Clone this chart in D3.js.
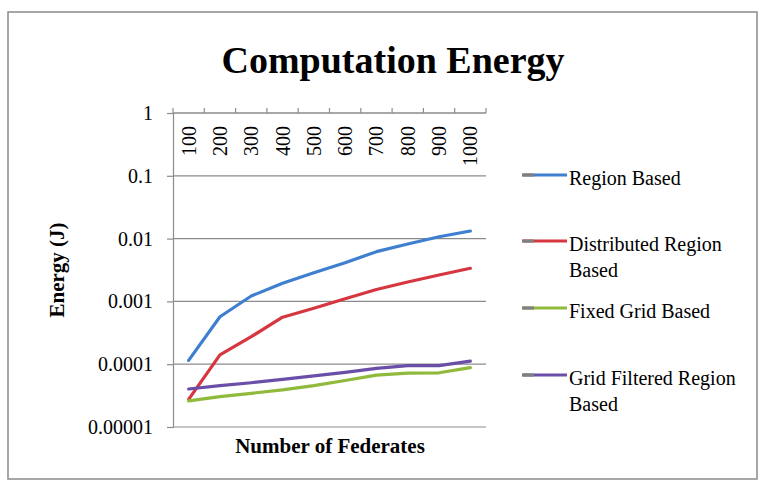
<!DOCTYPE html>
<html>
<head>
<meta charset="utf-8">
<script src="https://cdn.jsdelivr.net/npm/d3@7/dist/d3.min.js"></script>
<style>
  html, body { margin: 0; padding: 0; background: #fff; }
  svg { display: block; }
  text { font-family: "Liberation Serif", "Times New Roman", "DejaVu Serif", serif; fill: #000; }
</style>
</head>
<body>
<svg id="chart" width="763" height="484"></svg>
<script>
const categories = ["100","200","300","400","500","600","700","800","900","1000"];
const regionBased = [0.000115, 0.00057, 0.00122, 0.00194, 0.00286, 0.00413, 0.0062, 0.0082, 0.0107, 0.0132];
const distributedRegionBased = [0.0000275, 0.000141, 0.000274, 0.00056, 0.00078, 0.0011, 0.00155, 0.00204, 0.00263, 0.00337];
const fixedGridBased = [0.000026, 0.0000304, 0.0000344, 0.000039, 0.0000455, 0.000055, 0.000067, 0.000072, 0.000073, 0.000088];
const gridFilteredRegionBased = [0.0000403, 0.0000455, 0.0000507, 0.0000575, 0.000065, 0.000074, 0.000086, 0.000095, 0.000095, 0.000112];
const yTickValues = [0.00001, 0.0001, 0.001, 0.01, 0.1, 1];
const yTickLabels = ["0.00001", "0.0001", "0.001", "0.01", "0.1", "1"];
const seriesNames = [["Region Based"], ["Distributed Region", "Based"], ["Fixed Grid Based"], ["Grid Filtered Region", "Based"]];
const seriesColors = ["#3f7fcf", "#d6363f", "#8fba3c", "#6a4ea8"];

const series = [regionBased, distributedRegionBased, fixedGridBased, gridFilteredRegionBased];

const svg = d3.select("#chart");
const L = 173, R = 486, T = 113, B = 427;

// frame
svg.append("rect").attr("x", 8).attr("y", 12).attr("width", 749).attr("height", 467)
  .attr("fill", "#fff").attr("stroke", "#8a8a8a").attr("stroke-width", 1.5);

const x = d3.scaleBand().domain(categories).range([L, R]);
const y = d3.scaleLog().domain([1e-5, 1]).range([B, T]);

// gridlines
svg.append("g").selectAll("line").data(yTickValues).join("line")
  .attr("x1", L).attr("x2", R)
  .attr("y1", d => y(d)).attr("y2", d => y(d))
  .attr("stroke", "#8c8c8c").attr("stroke-width", 1.2);

// y axis
const yAxis = d3.axisLeft(y).tickValues(yTickValues)
  .tickFormat((d, i) => yTickLabels[i]).tickSize(6).tickPadding(14);
const gy = svg.append("g").attr("transform", `translate(${L},0)`).call(yAxis);
gy.select(".domain").attr("stroke", "#8c8c8c").attr("stroke-width", 1.2);
gy.selectAll(".tick line").attr("stroke", "#8c8c8c").attr("stroke-width", 1.2);
gy.selectAll(".tick text").style("font-family", "'Liberation Serif', 'Times New Roman', serif")
  .style("font-size", "20px").attr("fill", "#000");

// x axis (at top, crossing at y = 1)
const gx = svg.append("g");
gx.append("line").attr("x1", L).attr("x2", R).attr("y1", T).attr("y2", T)
  .attr("stroke", "#8c8c8c").attr("stroke-width", 1.2);
const boundaries = categories.map(c => x(c)).concat([x(categories[categories.length - 1]) + x.bandwidth()]);
gx.selectAll("line.tk").data(boundaries).join("line").attr("class", "tk")
  .attr("x1", d => d).attr("x2", d => d).attr("y1", T - 5).attr("y2", T)
  .attr("stroke", "#8c8c8c").attr("stroke-width", 1.2);
gx.selectAll("text").data(categories).join("text")
  .attr("transform", d => `translate(${x(d) + x.bandwidth() / 2},126) rotate(-90)`)
  .attr("text-anchor", "end").attr("dy", "0.35em")
  .style("font-size", "20px").text(d => d);

// lines
const line = d3.line().x((d, i) => x(categories[i]) + x.bandwidth() / 2).y(d => y(d));
svg.append("g").selectAll("path").data(series).join("path")
  .attr("d", d => line(d)).attr("fill", "none")
  .attr("stroke", (d, i) => seriesColors[i]).attr("stroke-width", 3.2)
  .attr("stroke-linejoin", "round").attr("stroke-linecap", "round");

// title
svg.append("text").attr("x", 393).attr("y", 73).attr("text-anchor", "middle")
  .style("font-size", "38px").style("font-weight", "bold").text("Computation Energy");

// axis titles
svg.append("text").attr("transform", "translate(64,270) rotate(-90)").attr("text-anchor", "middle")
  .style("font-size", "21px").style("font-weight", "bold").text("Energy (J)");
svg.append("text").attr("x", 330).attr("y", 453).attr("text-anchor", "middle")
  .style("font-size", "21px").style("font-weight", "bold").text("Number of Federates");

// legend
const legendBaselines = [185, 251, 318, 385];
const lg = svg.append("g");
seriesNames.forEach((names, i) => {
  const by = legendBaselines[i];
  lg.append("line").attr("x1", 523).attr("x2", 567).attr("y1", by - 10).attr("y2", by - 10)
    .attr("stroke", seriesColors[i]).attr("stroke-width", 3.2);
  lg.append("line").attr("x1", 522).attr("x2", 534).attr("y1", by - 10).attr("y2", by - 10)
    .attr("stroke", "#808080").attr("stroke-width", 3.2);
  names.forEach((n, j) => {
    lg.append("text").attr("x", 569).attr("y", by + j * 26)
      .style("font-size", "20px").text(n);
  });
});
</script>
</body>
</html>
